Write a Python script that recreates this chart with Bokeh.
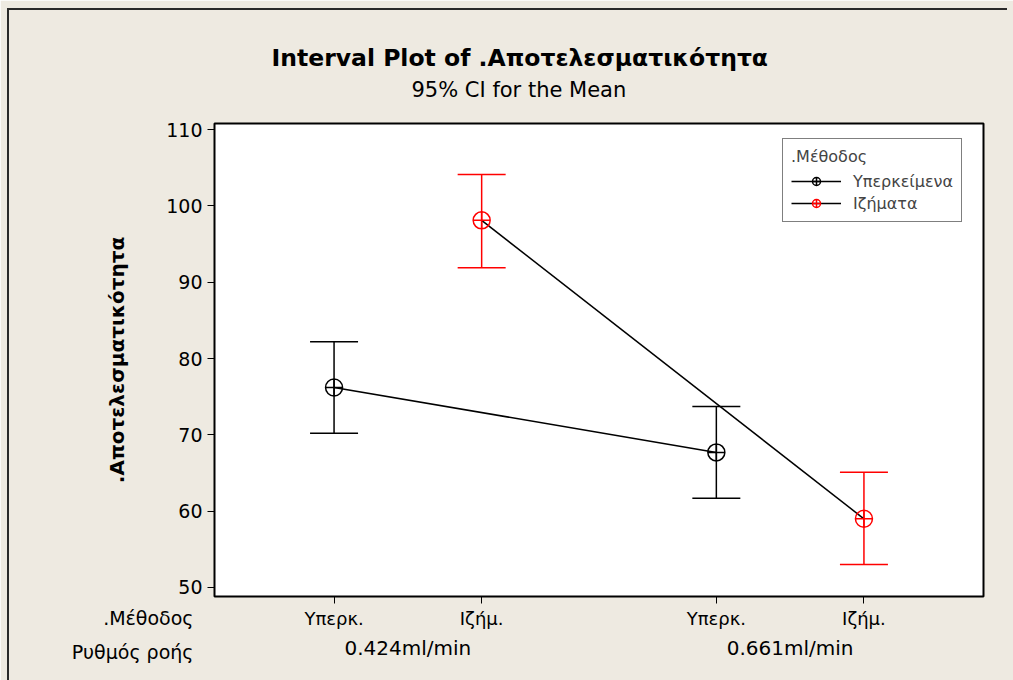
from bokeh.plotting import figure
from bokeh.models import (FactorRange, Range1d, ColumnDataSource, Whisker, TeeHead,
                          Label, Legend, LegendItem, FixedTicker, Title, InlineStyleSheet)
from bokeh.embed import file_html
from bokeh.resources import INLINE

# ---- data ----
rates = ["0.424ml/min", "0.661ml/min"]
methods = ["Υπερκ.", "Ιζήμ."]
method_names = ["Υπερκείμενα", "Ιζήματα"]
yperk_mean = [76.2, 67.7]
yperk_lower = [70.2, 61.7]
yperk_upper = [82.2, 73.7]
izim_mean = [98.1, 59.0]
izim_lower = [91.9, 53.0]
izim_upper = [104.1, 65.1]
y_ticks = [50, 60, 70, 80, 90, 100, 110]
row_headings = [".Μέθοδος", "Ρυθμός ροής"]

BG = "#EEEAE1"
FONT = "DejaVu Sans"

factors = [(r, m) for r in rates for m in methods]

p = figure(width=1013, height=680, output_backend="svg", toolbar_location=None,
           x_range=FactorRange(*factors, group_padding=0.59, factor_padding=0.0,
                               range_padding=0.31, range_padding_units="absolute"),
           y_range=Range1d(48.82, 110.79),
           min_border_left=214, min_border_right=30, min_border_top=123, min_border_bottom=84)
p.title = None
p.background_fill_color = "white"
p.border_fill_color = BG
p.outline_line_color = "black"
p.outline_line_width = 2
p.xgrid.visible = False
p.ygrid.visible = False

# thin dark outer frame lines (left and top), as in the reference
p.stylesheets = [InlineStyleSheet(css="""
:host { position: relative; }
:host::before { content: ''; position: absolute; left: 7px; top: 8px; width: 2px; height: 672px;
                background: #2a2a2a; z-index: 10; pointer-events: none; }
:host::after  { content: ''; position: absolute; left: 7px; top: 8px; width: 1000px; height: 2px;
                background: #2a2a2a; z-index: 10; pointer-events: none; }
""")]

series = [
    (methods[0], method_names[0], yperk_mean, yperk_lower, yperk_upper, "black"),
    (methods[1], method_names[1], izim_mean, izim_lower, izim_upper, "red"),
]
items = []
for m, name, mean, lo, hi, col in series:
    xs = [(r, m) for r in rates]
    src = ColumnDataSource(dict(x=xs, mean=mean, lower=lo, upper=hi))
    w = Whisker(source=src, base="x", lower="lower", upper="upper", dimension="height",
                line_color=col, line_width=1.5,
                upper_head=TeeHead(size=48, line_color=col, line_width=1.5),
                lower_head=TeeHead(size=48, line_color=col, line_width=1.5))
    p.add_layout(w)
    ln = p.line(x="x", y="mean", source=src, line_color="black", line_width=1.5)
    sc = p.scatter(x="x", y="mean", source=src, marker="circle_cross", size=17,
                   fill_color=None, line_color=col, line_width=1.5)
    items.append(LegendItem(label=name, renderers=[ln, sc]))

legend = Legend(items=items, location=(568, 374), title=".Μέθοδος",
                title_text_font=FONT, title_text_font_size="16px", title_text_font_style="normal",
                label_text_font=FONT, label_text_font_size="16px",
                glyph_width=50, glyph_height=20, label_standoff=12, spacing=2,
                padding=8, margin=0,
                border_line_color="black", border_line_width=1.5,
                background_fill_color="white", background_fill_alpha=1.0)
p.add_layout(legend, "center")

# axes
xa = p.xaxis[0]
xa.axis_line_color = None
xa.major_tick_in = 0
xa.major_tick_out = 7
xa.major_tick_line_color = "black"
xa.minor_tick_line_color = None
xa.major_label_text_font = FONT
xa.major_label_text_font_size = "18px"
xa.major_label_text_color = "black"
xa.group_text_font = FONT
xa.group_text_font_size = "20px"
xa.group_text_font_style = "normal"
xa.group_text_color = "black"
xa.separator_line_alpha = 0
xa.major_label_standoff = 4

ya = p.yaxis[0]
ya.ticker = FixedTicker(ticks=y_ticks)
ya.axis_line_color = None
ya.major_tick_in = 0
ya.major_tick_out = 7
ya.minor_tick_line_color = None
ya.major_label_text_font = FONT
ya.major_label_text_font_size = "19px"
ya.major_label_text_color = "black"
ya.axis_label = ".Αποτελεσματικότητα"
ya.axis_label_text_font = FONT
ya.axis_label_text_font_size = "20px"
ya.axis_label_text_font_style = "bold"
ya.axis_label_text_color = "black"
ya.axis_label_standoff = 34

# above panel, stacked outward from the frame:
# heading 1 (drawn below-left of the frame), subtitle, title, heading 2
p.add_layout(Label(x=-21, y=-494, x_units="screen", y_units="screen", text=row_headings[0],
                   text_align="right", text_baseline="middle",
                   text_font=FONT, text_font_size="19px", text_color="black"), "above")
p.add_layout(Title(text="95% CI for the Mean", align="left", offset=197,
                   text_font=FONT, text_font_size="21px", text_font_style="normal",
                   text_color="black", standoff=0), "above")
p.add_layout(Title(text="Interval Plot of .Αποτελεσματικότητα", align="left", offset=57,
                   text_font=FONT, text_font_size="23.5px", text_font_style="bold",
                   text_color="black", standoff=7), "above")
p.add_layout(Label(x=-21, y=-613, x_units="screen", y_units="screen", text=row_headings[1],
                   text_align="right", text_baseline="middle",
                   text_font=FONT, text_font_size="19px", text_color="black"), "above")

open("out.html", "w").write(file_html(p, INLINE))
